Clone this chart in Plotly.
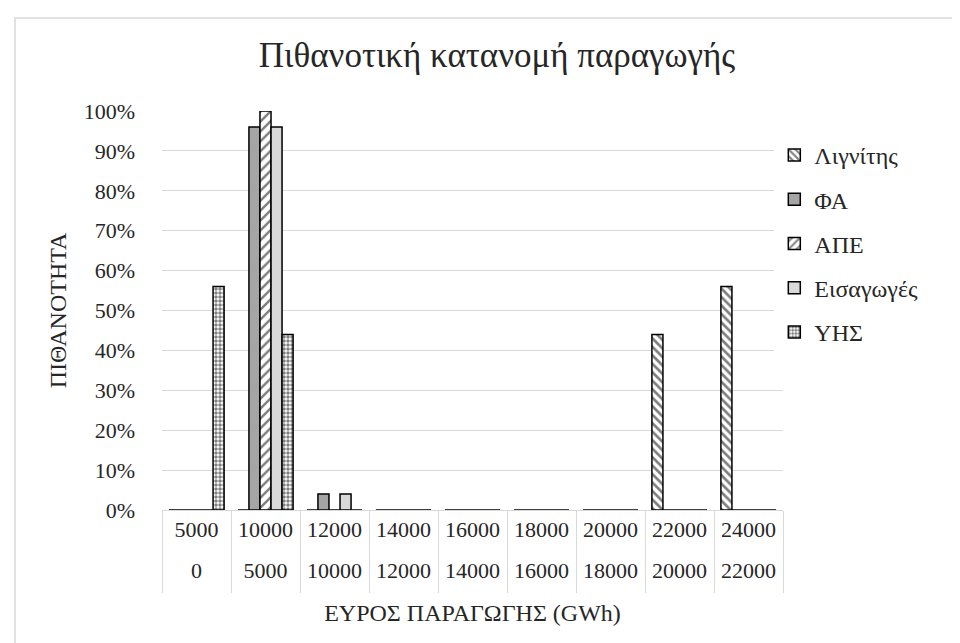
import plotly.graph_objects as go

upper_labels = ["5000", "10000", "12000", "14000", "16000", "18000", "20000", "22000", "24000"]
lower_labels = ["0", "5000", "10000", "12000", "14000", "16000", "18000", "20000", "22000"]

series_names = ["Λιγνίτης", "ΦΑ", "ΑΠΕ", "Εισαγωγές", "ΥΗΣ"]
lignite = [0, 0, 0, 0, 0, 0, 0, 0.44, 0.56]
natural_gas = [0, 0.96, 0.04, 0, 0, 0, 0, 0, 0]
res = [0, 1.00, 0, 0, 0, 0, 0, 0, 0]
imports = [0, 0.96, 0.04, 0, 0, 0, 0, 0, 0]
hydro = [0.56, 0.44, 0, 0, 0, 0, 0, 0, 0]

values = [lignite, natural_gas, res, imports, hydro]
styles = [
    dict(color="white", pattern=dict(shape="\\", fgcolor="black", bgcolor="white", size=6, solidity=0.45)),
    dict(color="#a5a5a5", pattern=dict(shape="")),
    dict(color="white", pattern=dict(shape="/", fgcolor="black", bgcolor="white", size=7, solidity=0.35)),
    dict(color="#d9d9d9", pattern=dict(shape="")),
    dict(color="white", pattern=dict(shape=".", fgcolor="black", bgcolor="white", size=4, solidity=0.6)),
]

FONT = "Liberation Serif"
TXT = "#262626"
GRID = "#d9d9d9"
TICK_SIZE = 22
AXT_SIZE = 24

# layout geometry (pixels)
W, H = 960, 643
PL, PR, PT = 154, 775, 103          # plot area left/right/top
AXIS_Y = 502                        # y of the 0% line
PAPER_B = 547                       # bottom of paper (second label row)
pw, ph = PR - PL, PAPER_B - PT

fig = go.Figure()
for i, (name, vals, st) in enumerate(zip(series_names, values, styles)):
    fig.add_trace(go.Bar(
        name=name,
        x=upper_labels,
        y=vals,
        legendgroup=f"g{i}",
        marker=dict(color=st["color"], pattern=st["pattern"],
                    line=dict(color="black", width=1.5)),
    ))

fig.update_layout(
    width=W, height=H,
    paper_bgcolor="white", plot_bgcolor="white",
    font=dict(family=FONT, size=TICK_SIZE, color=TXT),
    barmode="group", bargap=0.2, bargroupgap=0,
    margin=dict(l=PL, r=W - PR, t=PT, b=H - PAPER_B, autoexpand=False),
    title=dict(text="Πιθανοτική κατανομή παραγωγής", x=489 / W, xanchor="center",
               y=1 - 47 / H, yanchor="middle", font=dict(size=35, family=FONT, color=TXT)),
    legend=dict(x=0.986, xanchor="left", y=1 - (125 - PT) / ph, yanchor="top",
                font=dict(size=24, family=FONT, color=TXT), traceorder="grouped",
                tracegroupgap=10, itemwidth=30),
    xaxis=dict(type="category", categoryorder="array", categoryarray=upper_labels,
               range=[-0.5, 8.5],
               showgrid=False, showline=True, linecolor=GRID, linewidth=1,
               ticks="outside", tickson="boundaries", tickcolor=GRID, ticklen=82, tickwidth=1,
               tickfont=dict(size=TICK_SIZE, family=FONT, color=TXT), ticklabelstandoff=0),
    xaxis2=dict(overlaying="x", anchor="free", position=0, side="bottom",
                type="linear", range=[-0.5, 8.5], tickmode="array",
                tickvals=list(range(len(lower_labels))), ticktext=lower_labels,
                showgrid=False, showline=False, zeroline=False, ticks="",
                tickfont=dict(size=TICK_SIZE, family=FONT, color=TXT),
                title=dict(text="ΕΥΡΟΣ ΠΑΡΑΓΩΓΗΣ (GWh)", font=dict(size=AXT_SIZE, family=FONT, color=TXT),
                           standoff=22)),
    yaxis=dict(domain=[(PAPER_B - AXIS_Y) / ph, 1], range=[0, 1], dtick=0.1, tickformat=".0%",
               showgrid=True, gridcolor=GRID, zeroline=False, showline=False,
               tickfont=dict(size=TICK_SIZE, family=FONT, color=TXT), ticklabelstandoff=26,
               title=dict(text="ΠΙΘΑΝΟΤΗΤΑ", font=dict(size=AXT_SIZE, family=FONT, color=TXT), standoff=10)),
)

# invisible helper trace so xaxis2 is drawn
fig.add_trace(go.Scatter(x=[0], y=[0], xaxis="x2", yaxis="y", mode="markers",
                         marker=dict(opacity=0), showlegend=False, hoverinfo="skip"))

# outer chart border
fig.add_shape(type="rect", xref="paper", yref="paper",
              x0=(7 - PL) / pw, x1=(952 - PL) / pw, y0=-(642 - PAPER_B) / ph, y1=1 + (PT - 10) / ph,
              line=dict(color=GRID, width=1.5), fillcolor="rgba(0,0,0,0)", layer="below")

fig.write_html("out.html")
